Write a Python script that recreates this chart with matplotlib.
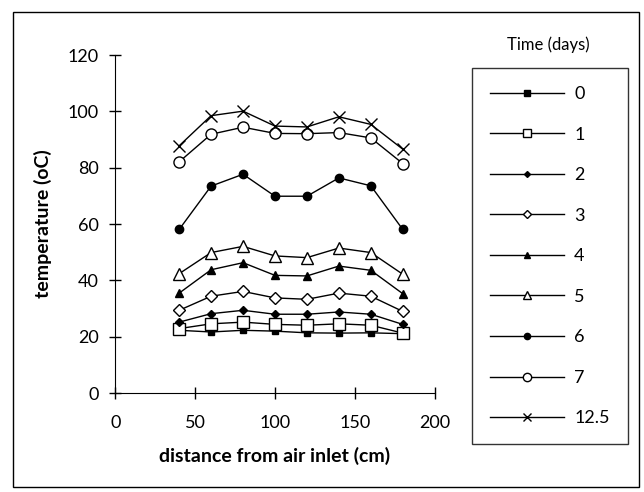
import matplotlib
matplotlib.use('Agg')
import matplotlib.pyplot as plt
from matplotlib.patches import Rectangle

plt.rcParams['font.family'] = ['Lato', 'DejaVu Sans']

distance = [40, 60, 80, 100, 120, 140, 160, 180]

days = ['0', '1', '2', '3', '4', '5', '6', '7', '12.5']
temps = {
    '0':    [22.3, 21.7, 22.3, 22.0, 21.4, 21.3, 21.4, 21.1],
    '1':    [22.9, 24.6, 25.2, 24.4, 24.1, 24.6, 24.1, 21.3],
    '2':    [25.2, 28.2, 29.4, 28.0, 28.0, 28.8, 28.0, 24.4],
    '3':    [29.4, 34.4, 36.1, 33.8, 33.3, 35.5, 34.4, 29.0],
    '4':    [35.5, 43.8, 46.3, 41.8, 41.6, 45.1, 43.6, 35.3],
    '5':    [42.4, 49.9, 52.1, 48.7, 48.1, 51.5, 49.9, 42.2],
    '6':    [58.1, 73.5, 77.7, 69.9, 69.9, 76.4, 73.6, 58.1],
    '7':    [82.1, 91.9, 94.4, 92.2, 92.1, 92.5, 90.6, 81.5],
    '12.5': [87.8, 98.5, 100.1, 94.8, 94.5, 98.1, 95.4, 86.6],
}

# marker, size, filled
styles = {
    '0':    ('s', 5, True),
    '1':    ('s', 8, False),
    '2':    ('D', 4, True),
    '3':    ('D', 6, False),
    '4':    ('^', 6, True),
    '5':    ('^', 8, False),
    '6':    ('o', 6, True),
    '7':    ('o', 8, False),
    '12.5': ('x', 8, True),
}

fig = plt.figure(figsize=(6.44, 4.92), dpi=100)
ax = fig.add_axes([0.179, 0.201, 0.496, 0.687])

for d in days:
    m, ms, filled = styles[d]
    ax.plot(distance, temps[d], color='black', linewidth=1.0, marker=m,
            markersize=ms, markerfacecolor='black' if filled else 'white',
            markeredgecolor='black', markeredgewidth=1.0, label=d)

ax.set_xlim(0, 200)
ax.set_ylim(0, 120)
ax.set_xticks([0, 50, 100, 150, 200])
ax.set_yticks([0, 20, 40, 60, 80, 100, 120])
ax.spines['top'].set_visible(False)
ax.spines['right'].set_visible(False)
ax.tick_params(direction='inout', length=8, width=1, labelsize=13)
ax.tick_params(axis='x', pad=12)
ax.tick_params(axis='y', pad=8)
ax.set_xlabel('distance from air inlet (cm)', fontsize=14, fontweight='bold', labelpad=11)
ax.set_ylabel('temperature (oC)', fontsize=14, fontweight='bold', labelpad=11)

leg = ax.legend(loc='upper left', bbox_to_anchor=(0.733, 0.862), bbox_transform=fig.transFigure,
                fontsize=13, frameon=True, fancybox=False, edgecolor='black',
                handlelength=4.1, labelspacing=1.36, borderpad=1.0, handletextpad=0.55,
                borderaxespad=0, markerscale=0.75)
leg.get_frame().set_linewidth(1.0)
fig.text(0.851, 0.909, 'Time (days)', fontsize=12, ha='center', va='center')

fig.patches.append(Rectangle((0.020, 0.010), 0.972, 0.966, transform=fig.transFigure,
                             fill=False, edgecolor='black', linewidth=1.0))

fig.savefig('out.png', dpi=100)
